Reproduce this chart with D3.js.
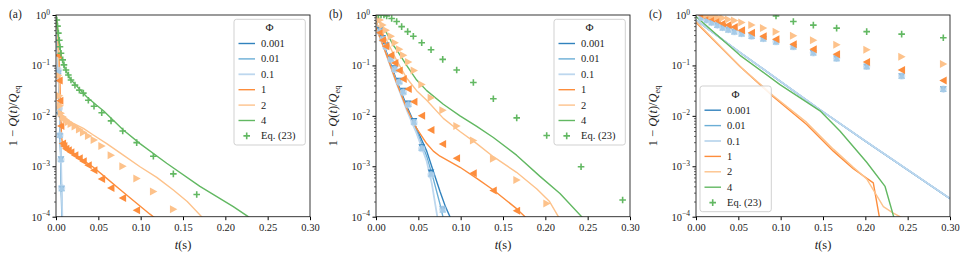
<!DOCTYPE html>
<html><head><meta charset="utf-8">
<script src="https://cdn.jsdelivr.net/npm/d3@7"></script>
<style>
body{margin:0;background:#fff}
svg text{font-family:'Liberation Serif','DejaVu Serif',serif !important;fill:#222}
</style>
</head><body>
<svg id="chart" width="970" height="261"></svg>
<script>
// ---------- data (times in s, values stored as log10 of 1-Q(t)/Qeq) ----------
const phiLabels = ["0.001", "0.01", "0.1", "1", "2", "4"];
const eqLabel = "Eq. (23)";
const xTicks = [0, 0.05, 0.10, 0.15, 0.20, 0.25, 0.30];
const yTickExps = [0, -1, -2, -3, -4];
const panelLabels = ["(a)", "(b)", "(c)"];

// Panel (a) solid lines
const aLine0001 = [[0,0],[0.002,-0.8],[0.004,-1.8],[0.0055,-2.8],[0.007,-4.1]];
const aLine001  = [[0,0],[0.002,-0.78],[0.004,-1.75],[0.0058,-2.9],[0.0073,-4.1]];
const aLine01   = [[0,0],[0.002,-0.75],[0.0042,-1.7],[0.006,-2.9],[0.0076,-4.1]];
const aLine1    = [[0,0],[0.002,-0.3],[0.004,-1.0],[0.0055,-1.8],[0.0065,-2.4],[0.0078,-2.57],[0.0126,-2.65],[0.0205,-2.74],[0.0323,-2.88],[0.0441,-3.02],[0.0599,-3.24],[0.0756,-3.46],[0.0913,-3.68],[0.111,-3.95],[0.115,-4.0],[0.12,-4.08]];
const aLine2    = [[0,0],[0.002,-0.4],[0.0035,-1.2],[0.0048,-1.8],[0.0058,-1.95],[0.0106,-2.05],[0.0205,-2.15],[0.0323,-2.25],[0.0441,-2.38],[0.0599,-2.55],[0.0795,-2.78],[0.0992,-3.01],[0.119,-3.22],[0.1386,-3.47],[0.155,-3.7],[0.172,-4.0],[0.18,-4.12]];
const aLine4    = [[0,0],[0.0016,-0.23],[0.0039,-0.56],[0.0067,-0.86],[0.0106,-1.06],[0.0165,-1.26],[0.0244,-1.41],[0.0362,-1.62],[0.048,-1.79],[0.056,-1.9],[0.0795,-2.28],[0.0992,-2.55],[0.1307,-2.94],[0.17,-3.4],[0.2094,-3.8],[0.227,-4.0],[0.24,-4.15]];
// Panel (a) markers
const aMk0001 = [[0.0028,-1.15],[0.0039,-1.98],[0.0047,-2.4],[0.0059,-2.86],[0.0067,-3.44]];
const aMk001  = [[0.0028,-1.12],[0.0039,-1.9],[0.0047,-2.38],[0.0059,-2.86],[0.0067,-3.44]];
const aMk01   = [[0.0028,-1.1],[0.0039,-1.85],[0.0047,-2.38],[0.0059,-2.87],[0.0067,-3.43]];
const aMk1    = [[0.0028,-0.8],[0.0039,-1.3],[0.0047,-1.7],[0.0059,-2.2],[0.0079,-2.55],[0.0094,-2.6],[0.0118,-2.65],[0.0146,-2.68],[0.0177,-2.72],[0.0224,-2.78],[0.0276,-2.84],[0.0323,-2.9],[0.0382,-2.98],[0.0449,-3.08],[0.054,-3.25],[0.065,-3.43],[0.0788,-3.63],[0.0953,-3.87]];
const aMk2    = [[0.0028,-1.2],[0.0039,-1.6],[0.0047,-1.8],[0.0059,-1.95],[0.0079,-2.02],[0.0094,-2.05],[0.0118,-2.08],[0.0146,-2.12],[0.0177,-2.16],[0.0224,-2.21],[0.0276,-2.27],[0.0323,-2.33],[0.0382,-2.4],[0.0449,-2.48],[0.054,-2.6],[0.065,-2.78],[0.0788,-3.0],[0.0953,-3.24],[0.115,-3.5],[0.1386,-3.85]];
const aMk4    = [[0.001,-0.1],[0.0018,-0.22],[0.0028,-0.36],[0.0039,-0.5],[0.0047,-0.63],[0.0059,-0.76],[0.0079,-0.89],[0.0094,-0.99],[0.0118,-1.09],[0.0146,-1.19],[0.0177,-1.29],[0.0224,-1.39],[0.0276,-1.49],[0.0323,-1.55],[0.0382,-1.69],[0.0449,-1.81],[0.054,-1.94],[0.065,-2.1],[0.0788,-2.3],[0.0953,-2.53],[0.115,-2.8],[0.1386,-3.15],[0.1662,-3.56]];

// Panel (b) solid lines
const bLine0001 = [[0,-0.12],[0.0126,-0.75],[0.0244,-1.3],[0.0362,-1.8],[0.048,-2.25],[0.0599,-2.7],[0.0677,-3.1],[0.0756,-3.5],[0.082,-3.8],[0.0874,-4.0],[0.09,-4.1]];
const bLine001  = [[0,-0.15],[0.0126,-0.78],[0.0244,-1.33],[0.0362,-1.84],[0.048,-2.3],[0.0599,-2.8],[0.0677,-3.25],[0.0756,-3.75],[0.079,-4.0],[0.081,-4.1]];
const bLine01   = [[0,-0.2],[0.0126,-0.8],[0.0244,-1.36],[0.0362,-1.88],[0.048,-2.35],[0.0599,-2.9],[0.066,-3.35],[0.0724,-4.0],[0.074,-4.1]];
const bLine1    = [[0,-0.25],[0.0126,-0.8],[0.0244,-1.35],[0.0362,-1.85],[0.048,-2.25],[0.0598,-2.55],[0.0677,-2.7],[0.0756,-2.8],[0.0992,-3.02],[0.119,-3.24],[0.1386,-3.47],[0.166,-3.84],[0.176,-4.0],[0.18,-4.06]];
const bLine2    = [[0,-0.15],[0.0126,-0.5],[0.0244,-0.9],[0.0362,-1.25],[0.048,-1.5],[0.0599,-1.69],[0.0795,-2.05],[0.0992,-2.31],[0.119,-2.55],[0.1386,-2.81],[0.166,-3.12],[0.19,-3.45],[0.205,-3.7],[0.2154,-4.0],[0.22,-4.1]];
const bLine4    = [[0,-0.02],[0.0126,-0.36],[0.0205,-0.6],[0.0244,-0.69],[0.0362,-1.0],[0.048,-1.29],[0.0599,-1.5],[0.0795,-1.77],[0.0992,-2.0],[0.119,-2.21],[0.1386,-2.43],[0.166,-2.78],[0.1937,-3.2],[0.2173,-3.54],[0.2429,-4.0],[0.25,-4.1]];
// Panel (b) markers
const bMk0001 = [[0.0047,-0.3],[0.0079,-0.45],[0.0118,-0.6],[0.0177,-0.85],[0.0224,-1.05],[0.0276,-1.3],[0.0323,-1.5],[0.0382,-1.75],[0.0449,-2.1],[0.054,-2.62],[0.065,-3.12],[0.0788,-3.85]];
const bMk001  = [[0.0047,-0.32],[0.0079,-0.47],[0.0118,-0.62],[0.0177,-0.87],[0.0224,-1.07],[0.0276,-1.32],[0.0323,-1.52],[0.0382,-1.77],[0.0449,-2.12],[0.054,-2.64],[0.065,-3.15],[0.0788,-3.86]];
const bMk01   = [[0.0047,-0.33],[0.0079,-0.48],[0.0118,-0.63],[0.0177,-0.88],[0.0224,-1.08],[0.0276,-1.33],[0.0323,-1.53],[0.0382,-1.78],[0.0449,-2.13],[0.054,-2.65],[0.065,-3.17],[0.0788,-3.85]];
const bMk1    = [[0.0047,-0.35],[0.0079,-0.5],[0.0118,-0.62],[0.0177,-0.8],[0.0224,-0.95],[0.0276,-1.1],[0.0323,-1.27],[0.0382,-1.47],[0.0449,-1.72],[0.054,-2.0],[0.065,-2.28],[0.0788,-2.56],[0.0953,-2.84],[0.115,-3.14],[0.1386,-3.48],[0.1662,-3.88]];
const bMk2    = [[0.0047,-0.1],[0.0079,-0.2],[0.0118,-0.3],[0.0177,-0.42],[0.0224,-0.55],[0.0276,-0.68],[0.0323,-0.8],[0.0382,-0.93],[0.0449,-1.1],[0.054,-1.38],[0.065,-1.64],[0.0788,-1.89],[0.0953,-2.2],[0.115,-2.49],[0.1386,-2.85],[0.1662,-3.27],[0.2016,-3.74]];
const bMk4    = [[0.0028,0.0],[0.0059,0.0],[0.0094,0.0],[0.0126,-0.02],[0.0185,-0.07],[0.0244,-0.13],[0.0303,-0.23],[0.0374,-0.33],[0.0441,-0.42],[0.054,-0.55],[0.065,-0.69],[0.0788,-0.88],[0.0953,-1.09],[0.115,-1.34],[0.1386,-1.66],[0.1662,-2.04],[0.2016,-2.39],[0.2422,-3.01],[0.2913,-3.67]];

// Panel (c) solid lines
const cLine0001 = [[0,-0.1],[0.05,-0.72],[0.1,-1.32],[0.1465,-1.88],[0.2,-2.5],[0.25,-3.07],[0.3,-3.64]];
const cLine001  = [[0,-0.1],[0.05,-0.72],[0.1,-1.32],[0.1465,-1.88],[0.2,-2.5],[0.25,-3.07],[0.3,-3.64]];
const cLine01   = [[0,-0.1],[0.05,-0.72],[0.1,-1.32],[0.1465,-1.88],[0.2,-2.5],[0.25,-3.07],[0.3,-3.64]];
const cLine1    = [[0,-0.15],[0.052,-1.02],[0.0913,-1.62],[0.1307,-2.17],[0.1622,-2.7],[0.1858,-3.05],[0.2094,-3.33],[0.2165,-4.0],[0.218,-4.1]];
const cLine2    = [[0,-0.13],[0.052,-1.02],[0.0913,-1.6],[0.1307,-2.13],[0.1622,-2.66],[0.1858,-3.02],[0.2016,-3.25],[0.2213,-3.8],[0.233,-3.93],[0.241,-4.0],[0.25,-4.08]];
const cLine4    = [[0,-0.03],[0.052,-0.8],[0.0992,-1.38],[0.1465,-1.9],[0.17,-2.3],[0.2016,-2.92],[0.2233,-3.4],[0.2335,-4.0],[0.235,-4.1]];
// Panel (c) markers
const cMk0001 = [[0.0067,-0.05],[0.0126,-0.1],[0.0185,-0.15],[0.0252,-0.2],[0.0315,-0.25],[0.0382,-0.29],[0.0453,-0.33],[0.0539,-0.37],[0.0657,-0.42],[0.0795,-0.47],[0.0945,-0.53],[0.115,-0.63],[0.1386,-0.75],[0.1661,-0.86],[0.2016,-1.02],[0.2429,-1.21],[0.2921,-1.47]];
const cMk001  = [[0.0067,-0.05],[0.0126,-0.1],[0.0185,-0.15],[0.0252,-0.2],[0.0315,-0.25],[0.0382,-0.29],[0.0453,-0.33],[0.0539,-0.37],[0.0657,-0.42],[0.0795,-0.47],[0.0945,-0.53],[0.115,-0.63],[0.1386,-0.75],[0.1661,-0.86],[0.2016,-1.02],[0.2429,-1.21],[0.2921,-1.47]];
const cMk01   = [[0.0067,-0.05],[0.0126,-0.1],[0.0185,-0.15],[0.0252,-0.2],[0.0315,-0.25],[0.0382,-0.29],[0.0453,-0.33],[0.0539,-0.37],[0.0657,-0.42],[0.0795,-0.47],[0.0945,-0.53],[0.115,-0.63],[0.1386,-0.75],[0.1661,-0.86],[0.2016,-1.02],[0.2429,-1.21],[0.2921,-1.47]];
const cMk1    = [[0.0067,0.0],[0.0126,-0.03],[0.0185,-0.07],[0.0252,-0.11],[0.0315,-0.17],[0.0382,-0.2],[0.0453,-0.24],[0.0539,-0.3],[0.0657,-0.35],[0.0795,-0.42],[0.0945,-0.48],[0.115,-0.58],[0.1386,-0.68],[0.1661,-0.78],[0.2016,-0.93],[0.2429,-1.09],[0.2921,-1.3]];
const cMk2    = [[0.0126,0.0],[0.0185,-0.02],[0.0252,-0.04],[0.0315,-0.06],[0.0382,-0.09],[0.0453,-0.11],[0.0539,-0.15],[0.0657,-0.2],[0.0795,-0.26],[0.0945,-0.33],[0.115,-0.41],[0.1386,-0.5],[0.1661,-0.59],[0.2016,-0.69],[0.2429,-0.83],[0.2921,-0.97]];
const cMk4    = [[0.0945,-0.02],[0.115,-0.13],[0.1386,-0.2],[0.1661,-0.26],[0.2016,-0.33],[0.2429,-0.38],[0.2921,-0.45]];

// ---------- styling / layout ----------
const FONT = "'Liberation Serif', 'DejaVu Serif', serif";
const colors = ["#3182bd", "#6baed6", "#bdd7ee", "#fd8d3c", "#fdc28b", "#62b862"];
const shapes = ["v", "^", "o", "<", ">", "+"];
const panelLefts = [56, 376, 696];
const plotTop = 15, plotW = 254, plotH = 201.7;
const legendPos = [[178, 4.3], [178, 4.3], [4, 71]]; // relative to plot origin

const panels = [
  {lines:[aLine0001,aLine001,aLine01,aLine1,aLine2,aLine4], marks:[aMk0001,aMk001,aMk01,aMk1,aMk2,aMk4]},
  {lines:[bLine0001,bLine001,bLine01,bLine1,bLine2,bLine4], marks:[bMk0001,bMk001,bMk01,bMk1,bMk2,bMk4]},
  {lines:[cLine0001,cLine001,cLine01,cLine1,cLine2,cLine4], marks:[cMk0001,cMk001,cMk01,cMk1,cMk2,cMk4]}
];

const svg = d3.select("#chart").attr("font-family", FONT);

function markerPath(shape, r) {
  switch (shape) {
    case "<": return `M${-r},0L${r*0.85},${-r}L${r*0.85},${r}Z`;
    case ">": return `M${r},0L${-r*0.85},${-r}L${-r*0.85},${r}Z`;
    case "^": return `M0,${-r}L${r},${r*0.85}L${-r},${r*0.85}Z`;
    case "v": return `M0,${r}L${r},${-r*0.85}L${-r},${-r*0.85}Z`;
    case "+": return `M${-r},0H${r}M0,${-r}V${r}`;
    default: return d3.symbol(d3.symbolCircle, Math.PI*r*r)();
  }
}

panels.forEach((p, pi) => {
  const g = svg.append("g").attr("transform", `translate(${panelLefts[pi]},${plotTop})`);
  const x = d3.scaleLinear().domain([0, 0.3]).range([0, plotW]);
  const y = d3.scaleLog().domain([1e-4, 1]).range([plotH, 0]);

  const clipId = "clip" + pi;
  g.append("clipPath").attr("id", clipId).append("rect")
    .attr("width", plotW).attr("height", plotH);

  const plot = g.append("g").attr("clip-path", `url(#${clipId})`);
  const line = d3.line().x(d => x(d[0])).y(d => y(Math.pow(10, d[1])));

  p.lines.forEach((ln, i) => {
    plot.append("path").datum(ln).attr("d", line)
      .attr("fill", "none").attr("stroke", colors[i])
      .attr("stroke-width", i === 2 ? 1.8 : 1.4).attr("stroke-linejoin", "round");
  });
  p.marks.forEach((mk, i) => {
    const s = shapes[i];
    const r = s === "+" ? 3.3 : (s === "o" ? 3.6 : (s === "<" || s === ">") ? 4 : 3.3);
    plot.selectAll(null).data(mk).enter().append("path")
      .attr("transform", d => `translate(${x(d[0])},${y(Math.pow(10, d[1]))})`)
      .attr("d", markerPath(s, r))
      .attr("fill", s === "+" ? "none" : colors[i])
      .attr("fill-opacity", s === "o" ? 0.72 : 1)
      .attr("stroke", s === "+" ? colors[i] : "none")
      .attr("stroke-width", s === "+" ? 1.6 : 0);
  });

  // axes
  const xAxis = d3.axisBottom(x).tickValues(xTicks).tickFormat(d3.format(".2f"))
    .tickSize(3.5).tickSizeOuter(0).tickPadding(3);
  const gx = g.append("g").attr("transform", `translate(0,${plotH})`).call(xAxis)
    .attr("font-family", FONT);
  gx.selectAll("text").attr("font-size", 10.5).attr("fill", "#222");
  gx.select(".domain").remove();

  const majors = yTickExps.map(e => Math.pow(10, e));
  const minors = [];
  yTickExps.slice(1).forEach(e => { for (let k = 2; k <= 9; k++) minors.push(k * Math.pow(10, e)); });
  const gyMin = g.append("g").call(d3.axisLeft(y).tickValues(minors).tickFormat("").tickSize(2).tickSizeOuter(0));
  gyMin.select(".domain").remove();
  gyMin.selectAll("line").attr("stroke-width", 0.6);
  const gy = g.append("g").call(d3.axisLeft(y).tickValues(majors).tickFormat("").tickSize(3.5).tickSizeOuter(0))
    .attr("font-family", FONT);
  gy.select(".domain").remove();
  gy.selectAll(".tick").each(function(d) {
    const e = Math.round(Math.log10(d));
    const t = d3.select(this).append("text").attr("x", -6).attr("y", 3.5)
      .attr("text-anchor", "end").attr("font-size", 10.5).attr("fill", "#222");
    t.append("tspan").text("10");
    t.append("tspan").attr("dy", -4.5).attr("font-size", 7.5).text(e === 0 ? "0" : "\u2212" + Math.abs(e));
  });

  // frame
  g.append("rect").attr("width", plotW).attr("height", plotH)
    .attr("fill", "none").attr("stroke", "#222").attr("stroke-width", 0.9);

  // axis titles
  const xl = g.append("text").attr("x", plotW / 2).attr("y", plotH + 32.5)
    .attr("text-anchor", "middle").attr("font-size", 12.5);
  xl.append("tspan").attr("font-style", "italic").text("t");
  xl.append("tspan").text("(s)");

  const yl = g.append("text").attr("transform", `translate(-39,${plotH / 2}) rotate(-90)`)
    .attr("text-anchor", "middle").attr("font-size", 12.5);
  yl.append("tspan").text("1 \u2212 ");
  yl.append("tspan").attr("font-style", "italic").text("Q");
  yl.append("tspan").text("(");
  yl.append("tspan").attr("font-style", "italic").text("t");
  yl.append("tspan").text(")/");
  yl.append("tspan").attr("font-style", "italic").text("Q");
  yl.append("tspan").attr("font-size", 8.5).attr("dy", 2.5).text("eq");

  // panel label
  svg.append("text").attr("x", panelLefts[pi] - 47).attr("y", 18)
    .attr("font-size", 11.5).text(panelLabels[pi]);

  // legend
  const [lx, ly] = legendPos[pi];
  const lg = g.append("g").attr("transform", `translate(${lx},${ly})`);
  lg.append("rect").attr("width", 71.3).attr("height", 125.7).attr("rx", 2.5)
    .attr("fill", "#fff").attr("fill-opacity", 0.85).attr("stroke", "#cccccc").attr("stroke-width", 0.9);
  lg.append("text").attr("x", 35.6).attr("y", 11.8).attr("text-anchor", "middle")
    .attr("font-size", 11).text("\u03A6");
  phiLabels.forEach((lab, i) => {
    const cy = 24.2 + i * 15.4;
    lg.append("line").attr("x1", 4.5).attr("x2", 21).attr("y1", cy).attr("y2", cy)
      .attr("stroke", colors[i]).attr("stroke-width", i === 2 ? 1.8 : 1.4);
    lg.append("text").attr("x", 27).attr("y", cy + 3.6).attr("font-size", 10.5).text(lab);
  });
  const ecy = 24.2 + 6 * 15.4;
  lg.append("path").attr("transform", `translate(12.7,${ecy})`).attr("d", markerPath("+", 3.3))
    .attr("stroke", colors[5]).attr("stroke-width", 1.6).attr("fill", "none");
  lg.append("text").attr("x", 27).attr("y", ecy + 3.6).attr("font-size", 10.5).text(eqLabel);
});

svg.selectAll("text").style("font-family", FONT);
</script>
</body></html>
